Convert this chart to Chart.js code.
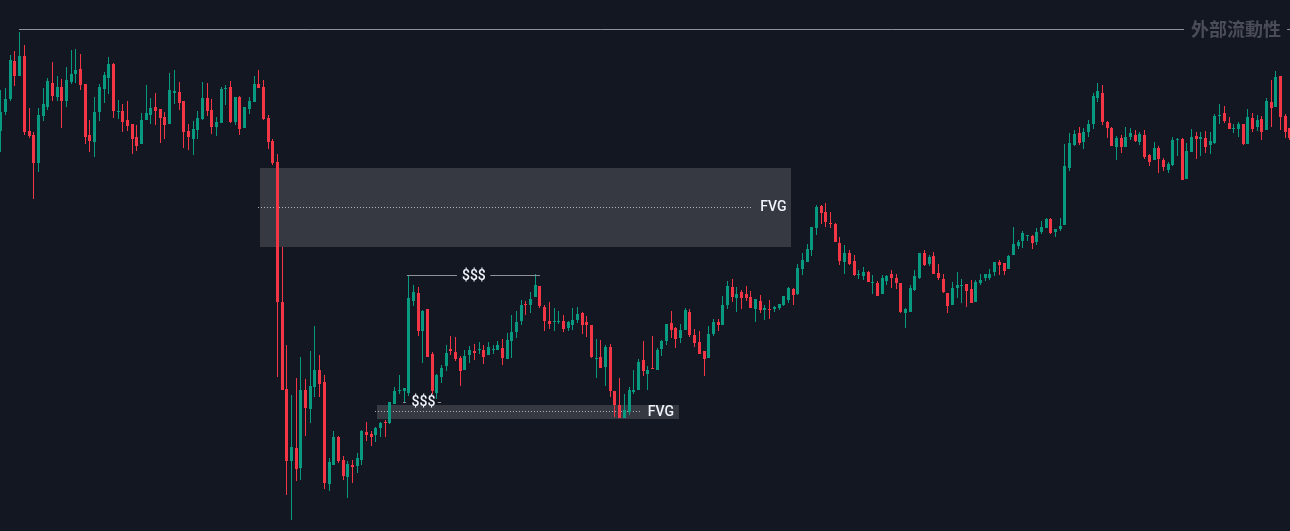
<!DOCTYPE html>
<html>
<head>
<meta charset="utf-8">
<style>
  html, body { margin: 0; padding: 0; background: #131722; overflow: hidden; }
  canvas { display: block; }
</style>
<script src="https://cdn.jsdelivr.net/npm/chart.js@4/dist/chart.umd.min.js"></script>
</head>
<body>
<canvas id="chart" width="1290" height="531"></canvas>
<script>
// OHLC, price units are arbitrary (no axis is shown)
const opens = [
  400,419,432,470,455,475,400,396,368,415, 424,448,434,444,430,449,457,462,447,396,
  389,419,442,453,467,419,420,411,407,394, 387,411,416,424,422,414,407,438,439,430,
  400,392,401,412,433,421,404,408,442,444, 409,434,403,422,429,447,444,413,390,369,
  229,142,70,83,63,141,122,144,161,149, 47,66,94,71,54,66,65,71,99,97,
  96,103,109,108,127,140,140,138,230,238, 200,222,177,138,154,165,182,179,173,161,
  176,180,181,181,176,181,181,183,172,190, 199,210,227,226,234,245,224,210,209,209,
  210,203,206,211,218,209,206,172,174,164, 184,140,126,113,119,139,141,171,157,163,
  161,182,190,208,203,193,201,219,196,189, 180,173,197,209,206,226,244,233,239,237,
  234,222,230,221,222,222,223,226,231,242, 237,262,269,281,303,325,319,308,307,288,
  269,278,270,256,255,259,248,248,237,250, 257,253,248,218,219,241,253,278,267,275,
  258,252,238,226,243,245,247,242,229,248, 253,253,259,269,268,262,276,285,290,295,
  295,289,299,303,312,299,302,306,363,386, 398,389,399,407,433,438,409,403,384,393,
  384,394,396,389,396,376,371,383,371,361, 366,391,392,352,379,395,392,393,386,388,
  415,418,408,402,402,407,387,413,404,412, 401,429,424,455,415,403
];
const highs = [
  441,443,476,480,499,486,423,399,423,443, 453,469,455,452,464,481,482,477,447,411,
  434,447,459,474,468,431,427,430,407,406, 418,446,433,438,422,419,458,461,449,430,
  407,410,420,449,448,432,414,444,446,450, 434,435,424,434,455,461,451,416,392,377,
  284,186,136,153,174,152,180,205,176,156, 73,100,95,75,70,71,78,101,109,100,
  104,109,111,129,144,156,143,256,246,244, 221,222,179,157,166,186,195,194,175,181,
  185,187,189,186,189,186,190,192,198,216, 220,231,230,239,257,245,226,229,223,220,
  216,210,223,224,219,215,206,192,191,186, 187,140,153,137,144,161,172,190,165,195,
  183,191,207,220,204,207,223,222,202,200, 180,205,212,212,235,250,252,244,241,245,
  240,232,236,226,231,225,227,235,244,243, 267,278,287,304,326,326,328,319,308,294,
  286,281,276,261,264,260,256,250,256,256, 261,257,248,223,246,261,278,281,276,279,
  267,257,238,249,259,252,247,251,251,257, 257,262,269,271,268,276,304,291,300,296,
  296,303,310,313,313,302,313,387,398,401, 404,403,411,438,448,446,410,404,395,396,
  404,403,401,399,401,377,389,385,373,369, 394,393,393,388,402,399,399,400,399,417,
  427,425,414,407,409,407,422,418,416,415, 433,451,460,455,417,403
];
const lows = [
  379,416,430,445,455,396,393,332,359,410, 421,430,430,403,424,447,448,441,387,379,
  374,410,428,437,413,412,399,400,377,380, 387,411,407,406,388,392,407,427,421,383,
  381,376,392,411,415,397,395,408,426,408, 406,396,403,417,429,443,411,382,366,154,
  141,36,11,50,51,95,108,134,134,42, 40,66,68,51,33,48,58,66,90,85,
  89,94,94,107,127,137,129,135,225,195, 168,174,137,132,148,160,176,170,145,161,
  168,171,177,167,176,177,181,166,172,173, 193,206,216,218,234,223,200,202,200,207,
  199,200,201,208,197,194,173,153,163,145, 134,114,113,113,116,137,141,155,141,162,
  161,175,186,193,183,188,201,194,184,177, 155,173,195,200,206,222,229,219,222,230,
  223,209,218,211,212,219,221,225,228,226, 236,256,269,275,296,307,304,303,289,266,
  257,266,255,252,251,249,237,235,237,246, 243,242,218,203,219,240,252,265,265,257,
  251,238,218,226,233,228,224,228,229,246, 250,251,255,256,256,262,276,282,283,290,
  282,286,297,303,297,294,300,306,360,385, 386,382,394,402,429,406,393,385,371,378,
  384,391,389,386,372,365,371,358,360,358, 365,375,351,352,379,372,375,378,377,387,
  407,408,402,398,394,386,387,399,400,391, 401,404,424,401,393,391
];
const closes = [
  419,432,471,455,475,399,395,368,416,427, 450,435,444,430,451,457,461,446,394,390,
  419,444,456,467,420,420,409,405,392,385, 411,418,423,420,413,406,441,440,428,399,
  394,402,413,433,420,404,409,442,443,409, 434,402,424,430,447,443,412,389,368,229,
  141,70,84,62,141,123,145,161,147,48, 69,94,70,55,67,64,73,100,96,94,
  103,108,108,129,140,141,143,233,239,200, 220,174,140,156,163,178,180,172,160,175,
  181,178,182,174,184,182,186,173,191,199, 209,226,226,232,246,225,210,207,210,210,
  202,209,211,217,206,206,174,173,163,184, 140,126,113,121,141,141,169,160,161,162,
  181,190,207,201,192,201,221,196,188,177, 172,197,209,206,226,245,234,237,233,233,
  223,232,221,223,221,224,227,235,243,236, 263,271,282,304,324,318,309,307,289,270,
  278,267,256,257,259,249,249,235,253,255, 253,248,219,222,243,255,278,266,274,257,
  253,239,225,243,246,246,240,228,249,251, 257,257,269,266,260,275,287,289,298,296,
  288,299,304,312,298,302,305,365,388,397, 388,399,407,435,440,409,403,385,393,384,
  394,398,390,397,374,369,383,372,364,367, 391,392,351,380,394,392,394,384,390,415,
  416,410,402,403,407,387,414,402,411,399, 430,423,454,414,399,393
];

// FVG zones: [first bar, last bar, lower price, upper price]
const fvgBig = [55.3, 168.6, 284, 363];
const fvgSmall = [80.3, 144.7, 112, 126];

// liquidity and midline levels: [first bar, last bar, price]
const solidLevels = [
  [3.85, 252.4, 501.5], [274.4, 276, 501.5],
  [86.6, 97.3, 255.5], [104.4, 115, 255.5],
  [85.8, 86.4, 128.5], [93.2, 93.9, 128.5],
];
const dottedLevels = [
  [54.85, 160.2, 323.5],
  [79.8, 136.6, 119.5],
];

// text labels: [text, bar, price]
const plainLabels = [
  ['FVG', 164.8, 324],
  ['FVG', 140.8, 119],
  ['$$$', 100.9, 255],
  ['$$$', 90.15, 129],
];
const liquidityLabel = ['外部流動性', 263.5, 502];

const UP = '#089981';
const DOWN = '#f23645';
const candleColors = opens.map((o, i) => (closes[i] >= o ? UP : DOWN));

// keeps the candles crisp, bars would otherwise land between two pixels
const snapBars = {
  id: 'snapBars',
  beforeDatasetsDraw(chart) {
    chart.data.datasets.forEach((ds, i) => {
      if (ds.type !== 'bar') return;
      chart.getDatasetMeta(i).data.forEach(el => { el.x = Math.floor(el.x) + 0.5; });
    });
  },
};

const zones = {
  id: 'zones',
  beforeDatasetsDraw(chart) {
    const { ctx, scales: { x, y } } = chart;
    ctx.save();
    ctx.fillStyle = 'rgba(255,255,255,0.15)';
    [fvgBig, fvgSmall].forEach(([a, b, lo, hi]) => {
      const left = Math.round(x.getPixelForValue(a));
      const top = y.getPixelForValue(hi);
      ctx.fillRect(left, top, Math.round(x.getPixelForValue(b)) - left, y.getPixelForValue(lo) - top);
    });
    ctx.restore();
  },
};

const labels = {
  id: 'labels',
  afterDatasetsDraw(chart) {
    const { ctx, scales: { x, y } } = chart;
    ctx.save();
    ctx.textAlign = 'center';
    ctx.textBaseline = 'middle';
    ctx.fillStyle = '#f0f3fa';
    ctx.font = '500 14px Roboto, sans-serif';
    plainLabels.forEach(([text, bar, price]) => {
      ctx.fillText(text, x.getPixelForValue(bar), y.getPixelForValue(price));
    });
    ctx.fillStyle = '#4a4d57';
    ctx.font = '700 18px "Noto Sans CJK TC", sans-serif';
    ctx.fillText(liquidityLabel[0], x.getPixelForValue(liquidityLabel[1]), y.getPixelForValue(liquidityLabel[2]));
    ctx.restore();
  },
};

function levelDataset([a, b, price], color, dash) {
  return {
    type: 'line',
    data: [{ x: a, y: price }, { x: b, y: price }],
    borderColor: color,
    borderWidth: 1,
    borderDash: dash,
    pointRadius: 0,
    order: dash.length ? 5 : 0,
  };
}

new Chart(document.getElementById('chart'), {
  data: {
    datasets: [
      ...dottedLevels.map(l => levelDataset(l, '#b2b5be', [1, 2])),
      ...solidLevels.map(l => levelDataset(l, '#8f9198', [])),
      {
        type: 'bar',
        data: opens.map((_, i) => ({ x: i, y: [lows[i], highs[i]] })),
        backgroundColor: candleColors,
        barThickness: 1,
        borderWidth: 0,
        borderSkipped: false,
        inflateAmount: 0,
        grouped: false,
        order: 2,
      },
      {
        type: 'bar',
        data: opens.map((o, i) => ({ x: i, y: [o, closes[i]] })),
        backgroundColor: candleColors,
        barThickness: 3,
        borderWidth: 0,
        borderSkipped: false,
        inflateAmount: 0,
        grouped: false,
        order: 1,
      },
    ],
  },
  options: {
    responsive: false,
    animation: false,
    events: [],
    layout: { padding: 0 },
    plugins: { legend: { display: false }, tooltip: { enabled: false } },
    scales: {
      x: { type: 'linear', display: false, offset: false, min: -0.192, max: 275.01 },
      y: { type: 'linear', display: false, min: 0, max: 531 },
    },
  },
  plugins: [zones, snapBars, labels],
});
</script>
</body>
</html>
